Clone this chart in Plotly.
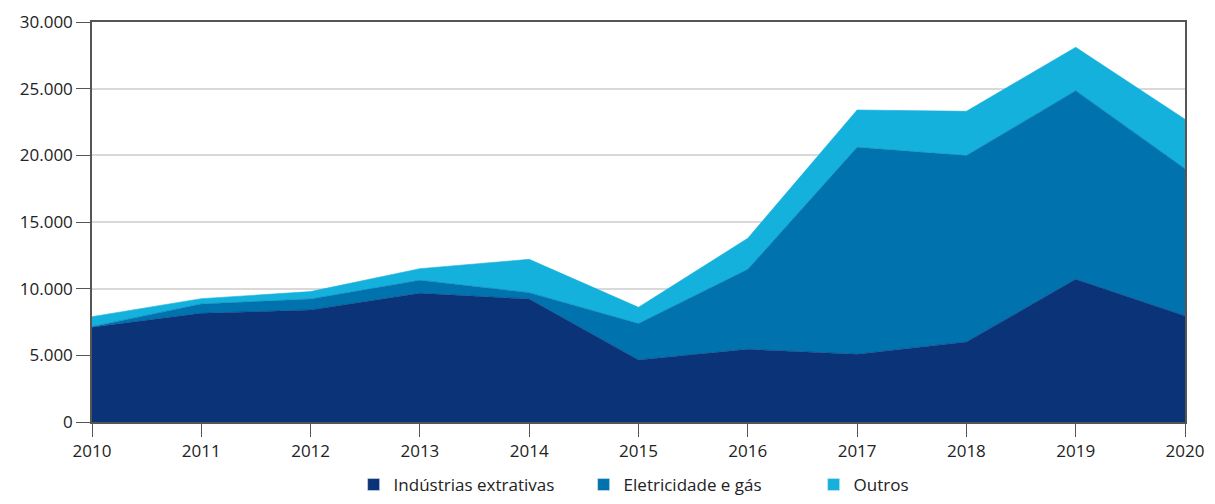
import plotly.graph_objects as go

years = [2010, 2011, 2012, 2013, 2014, 2015, 2016, 2017, 2018, 2019, 2020]
industrias = [7100, 8150, 8400, 9650, 9220, 4650, 5450, 5080, 6000, 10700, 7950]
eletricidade = [50, 700, 820, 980, 480, 2730, 6000, 15520, 13980, 14150, 11050]
outros = [750, 400, 560, 870, 2500, 1220, 2330, 2800, 3320, 3250, 3700]

names = ["Indústrias extrativas", "Eletricidade e gás", "Outros"]
colors = ["#0A3378", "#0073AE", "#15B1DD"]
series = [industrias, eletricidade, outros]

fig = go.Figure()
for name, vals, col in zip(names, series, colors):
    fig.add_trace(go.Scatter(
        x=years, y=vals, name=name, mode="lines", stackgroup="one",
        line=dict(width=0.6, color=col), fillcolor=col, showlegend=False,
    ))
# legend-only entries with square swatches
for name, col in zip(names, colors):
    fig.add_trace(go.Bar(x=[None], y=[None], name=name, marker=dict(color=col),
                         showlegend=True))

# page body has an 8px margin; keep the figure inside the viewport (no scrollbars)
fig.update_layout(
    width=1199, height=488,
    margin=dict(l=84, r=22, t=14, b=74, autoexpand=False),
    paper_bgcolor="white", plot_bgcolor="white",
    separators=",.",
    font=dict(family="Open Sans, Noto Sans, sans-serif", size=17, color="#222222"),
    showlegend=True,
    legend=dict(orientation="h", x=0.555, xanchor="center", y=-0.1575, yanchor="middle",
                font=dict(size=17), traceorder="normal", entrywidth=185, entrywidthmode="pixels"),
    xaxis=dict(range=[2010, 2020], tickmode="array", tickvals=years,
               ticks="outside", ticklen=13, tickcolor="#555555", automargin=False,
               ticklabeloverflow="allow",
               showline=True, linecolor="#555555", linewidth=1.5, mirror=True,
               showgrid=False, zeroline=False, tickfont=dict(size=17)),
    yaxis=dict(range=[0, 30000], tickvals=[0, 5000, 10000, 15000, 20000, 25000, 30000],
               tickformat=",d", ticks="outside", ticklen=14, tickcolor="#555555",
               automargin=False,
               showline=True, linecolor="#555555", linewidth=1.5, mirror=True,
               showgrid=True, gridcolor="#D9D9D9", gridwidth=1.5, zeroline=False,
               tickfont=dict(size=17)),
)

fig.write_html("out.html")
